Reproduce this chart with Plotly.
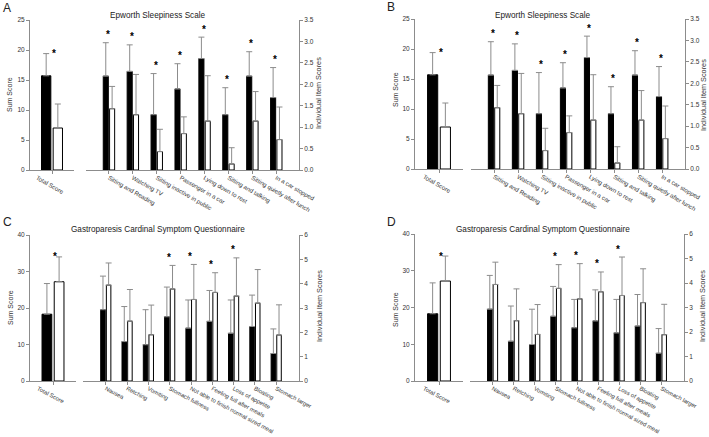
import plotly.graph_objects as go

W, H = 709, 437

# ---------------- data ----------------
ess_total_labels = ["Total Score"]
ess_total_mean = [15.7, 7.0]          # [black group, white group]
ess_total_upper = [19.4, 11.0]
ess_total_sig = True

ess_items = ["Sitting and Reading", "Watching TV", "Sitting inactive in public",
             "Passenger in a car", "Lying down to rest", "Sitting and talking",
             "Sitting quietly after lunch", "In a car stopped"]
ess_black_mean = [2.19, 2.30, 1.29, 1.89, 2.60, 1.29, 2.19, 1.69]
ess_black_upper = [2.97, 2.92, 2.25, 2.48, 3.10, 1.92, 2.76, 2.39]
ess_white_mean = [1.43, 1.29, 0.43, 0.85, 1.14, 0.14, 1.14, 0.71]
ess_white_upper = [1.95, 2.23, 0.95, 1.24, 2.20, 0.52, 1.83, 1.47]
ess_sig = [True, True, True, True, True, True, True, True]

gcsq_total_labels = ["Total Score"]
gcsq_total_mean = [18.3, 27.2]
gcsq_total_upper = [26.7, 34.0]
gcsq_total_sig = True

gcsq_items = ["Nausea", "Retching", "Vomiting", "Stomach fullness",
              "Not able to finish normal sized meal", "Feeling full after meals",
              "Loss of appetite", "Bloating", "Stomach larger"]
gcsq_black_mean = [2.93, 1.62, 1.49, 2.64, 2.17, 2.45, 1.96, 2.24, 1.13]
gcsq_black_upper = [4.31, 3.06, 2.93, 3.86, 3.33, 3.72, 3.33, 3.53, 2.14]
gcsq_white_mean = [3.94, 2.46, 1.90, 3.78, 3.35, 3.64, 3.49, 3.20, 1.89]
gcsq_white_upper = [4.85, 3.76, 3.12, 4.75, 4.79, 4.45, 5.06, 4.58, 3.13]
gcsq_sig = [False, False, False, True, True, True, True, False, False]

ess_title = "Epworth Sleepiness Scale"
gcsq_title = "Gastroparesis Cardinal Symptom Questionnaire"
left_title = "Sum Score"
right_title = "Individual Item Scores"

ess = dict(title=ess_title, tl=ess_total_labels, tm=ess_total_mean, tu=ess_total_upper,
           ts=ess_total_sig, items=ess_items, bm=ess_black_mean, bu=ess_black_upper,
           wm=ess_white_mean, wu=ess_white_upper, sig=ess_sig,
           lrange=[0, 25], ldt=5, rrange=[0, 3.5], rdt=0.5, rfmt=".1f",
           tickangle=30, tickfont=6.1)
gcsq = dict(title=gcsq_title, tl=gcsq_total_labels, tm=gcsq_total_mean, tu=gcsq_total_upper,
            ts=gcsq_total_sig, items=gcsq_items, bm=gcsq_black_mean, bu=gcsq_black_upper,
            wm=gcsq_white_mean, wu=gcsq_white_upper, sig=gcsq_sig,
            lrange=[0, 40], ldt=10, rrange=[0, 6], rdt=1, rfmt="d",
            tickangle=28, tickfont=5.9)

# ---------------- layout (pixel geometry) ----------------
panels = [
    dict(letter="A", d=ess, tdom=(30, 74), idom=(86, 299), ydom=(20, 170), lx=(7, 8), titlex=158, titley=15,
         ltx=10, lty=95, rtx=319, rty=93, irange=[-0.96, 7.95]),
    dict(letter="B", d=ess, tdom=(415, 463), idom=(471, 685), ydom=(19, 169), lx=(391, 7), titlex=543, titley=15,
         ltx=395, lty=90, rtx=704, rty=95, irange=[-0.96, 7.95]),
    dict(letter="C", d=gcsq, tdom=(30, 76), idom=(83, 299), ydom=(235, 381), lx=(7, 222), titlex=158, titley=229,
         ltx=10, lty=308, rtx=319, rty=306, irange=[-1.07, 9.07]),
    dict(letter="D", d=gcsq, tdom=(415, 463), idom=(470, 684), ydom=(234, 381), lx=(391, 222), titlex=543, titley=229,
         ltx=395, lty=310, rtx=702, rty=306, irange=[-1.07, 9.07]),
]

FONT = "Liberation Sans, Arial, sans-serif"
AX = "#8c8c8c"
TXT = "#333333"
ERR = "#8c8c8c"

def fx(p):
    return p / W

def fy(p):
    return 1 - p / H

fig = go.Figure()
layout = dict(template="none", width=W, height=H,
              margin=dict(l=0, r=0, t=0, b=0, pad=0, autoexpand=False),
              paper_bgcolor="white", plot_bgcolor="rgba(0,0,0,0)", showlegend=False,
              barmode="group", bargap=0.47, bargroupgap=0.2,
              font=dict(family=FONT, color=TXT))
annotations = []

def bar_pair(xs, bm, bu, wm, wu, xa, ya):
    for mean, upper, fill in ((bm, bu, "black"), (wm, wu, "white")):
        fig.add_trace(go.Bar(
            x=xs, y=mean, xaxis=xa, yaxis=ya,
            marker=dict(color=fill, line=dict(color="black", width=1)),
            error_y=dict(type="data", symmetric=False,
                         array=[u - m for u, m in zip(upper, mean)],
                         arrayminus=[0] * len(mean),
                         color=ERR, thickness=1, width=3),
            hoverinfo="skip"))

for i, p in enumerate(panels):
    d = p["d"]
    n1, n2 = 2 * i + 1, 2 * i + 2
    xa1, xa2 = f"x{n1}", f"x{n2}"
    ya1, ya2 = f"y{n1}", f"y{n2}"
    ydom = [fy(p["ydom"][1]), fy(p["ydom"][0])]

    # totals
    bar_pair(d["tl"], [d["tm"][0]], [d["tu"][0]], [d["tm"][1]], [d["tu"][1]], xa1, ya1)
    # items
    bar_pair(d["items"], d["bm"], d["bu"], d["wm"], d["wu"], xa2, ya2)

    xcommon = dict(showline=True, linecolor=AX, linewidth=1, ticks="outside", ticklen=3,
                   tickcolor=AX, tickangle=d["tickangle"],
                   tickfont=dict(size=d["tickfont"], color=TXT, family=FONT),
                   showgrid=False, zeroline=False, fixedrange=True, type="category",
                   automargin=False, ticklabelstandoff=-2)
    ycommon = dict(showline=True, linecolor=AX, linewidth=1, ticks="outside", ticklen=3,
                   tickcolor=AX, tickfont=dict(size=6.5, color=TXT, family=FONT),
                   showgrid=False, zeroline=False, fixedrange=True, automargin=False)

    layout[f"xaxis{n1}"] = dict(xcommon, domain=[fx(p["tdom"][0]), fx(p["tdom"][1])],
                                anchor=ya1, range=[-0.5, 0.5], ticklabelshift=-15)
    layout[f"xaxis{n2}"] = dict(xcommon, domain=[fx(p["idom"][0]), fx(p["idom"][1])],
                                anchor=ya2, range=p["irange"])
    layout[f"yaxis{n1}"] = dict(ycommon, domain=ydom, anchor=xa1, side="left",
                                range=d["lrange"], dtick=d["ldt"], tick0=0)
    layout[f"yaxis{n2}"] = dict(ycommon, domain=ydom, anchor=xa2, side="right",
                                range=d["rrange"], dtick=d["rdt"], tick0=0, tickformat=d["rfmt"])

    # asterisks
    if d["ts"]:
        annotations.append(dict(x=d["tl"][0], y=max(d["tu"]), xref=xa1, yref=ya1, text="<b>*</b>",
                                showarrow=False, yanchor="middle", xshift=2, yshift=0,
                                font=dict(size=10, color="black", family=FONT)))
    for k, name in enumerate(d["items"]):
        if d["sig"][k]:
            annotations.append(dict(x=name, y=max(d["bu"][k], d["wu"][k]), xref=xa2, yref=ya2,
                                    text="<b>*</b>", showarrow=False, yanchor="middle", xshift=-1, yshift=8,
                                    font=dict(size=10, color="black", family=FONT)))

    # panel letter, title, axis titles
    annotations.append(dict(x=fx(p["lx"][0]), y=fy(p["lx"][1]), xref="paper", yref="paper",
                            text=p["letter"], showarrow=False, xanchor="center", yanchor="middle",
                            font=dict(size=12, color="#222222", family=FONT)))
    annotations.append(dict(x=fx(p["titlex"]), y=fy(p["titley"]), xref="paper", yref="paper",
                            text=d["title"], showarrow=False, xanchor="center", yanchor="middle",
                            font=dict(size=8.2, color="#222222", family=FONT)))
    annotations.append(dict(x=fx(p["ltx"]), y=fy(p["lty"]), xref="paper", yref="paper",
                            text=left_title, textangle=-90, showarrow=False,
                            xanchor="center", yanchor="middle",
                            font=dict(size=7, color=TXT, family=FONT)))
    annotations.append(dict(x=fx(p["rtx"]), y=fy(p["rty"]), xref="paper", yref="paper",
                            text=right_title, textangle=-90, showarrow=False,
                            xanchor="center", yanchor="middle",
                            font=dict(size=7.3, color=TXT, family=FONT)))

layout["annotations"] = annotations
fig.update_layout(**layout)
fig.write_html("out.html", config={"displayModeBar": False},
               post_script="document.body.style.margin='0';document.body.style.overflow='hidden';")
